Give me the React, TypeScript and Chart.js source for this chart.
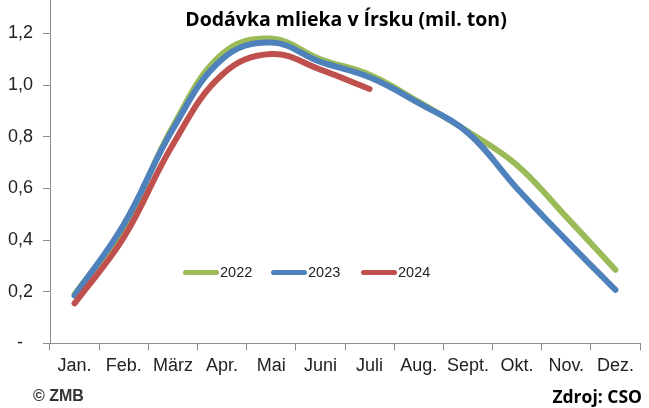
import React, { useEffect, useRef } from "react";
import { Chart, registerables } from "chart.js";

Chart.register(...registerables);

const months = ["Jan.", "Feb.", "März", "Apr.", "Mai", "Juni", "Juli", "Aug.", "Sept.", "Okt.", "Nov.", "Dez."];
const y2022 = [0.19, 0.45, 0.84, 1.12, 1.18, 1.10, 1.04, 0.935, 0.82, 0.69, 0.49, 0.285];
const y2023 = [0.185, 0.46, 0.83, 1.10, 1.165, 1.09, 1.03, 0.93, 0.815, 0.60, 0.40, 0.207];
const y2024 = [0.155, 0.41, 0.77, 1.04, 1.12, 1.06, 0.985];
const seriesNames = ["2022", "2023", "2024"];
const seriesColors = ["#9BBB59", "#4F81BD", "#C0504D"];

const FONT = "'Liberation Sans', Arial, sans-serif";

export default function App() {
  const ref = useRef<HTMLCanvasElement | null>(null);

  useEffect(() => {
    if (!ref.current) return;
    const chart = new Chart(ref.current, {
      type: "line",
      data: {
        labels: months,
        datasets: [y2022, y2023, y2024].map((d, i) => ({
          label: seriesNames[i],
          data: d,
          borderColor: seriesColors[i],
          backgroundColor: seriesColors[i],
          borderWidth: 6,
          borderCapStyle: "round" as const,
          borderJoinStyle: "round" as const,
          pointRadius: 0,
          tension: 0.4,
          fill: false,
          order: 2 - i,
        })),
      },
      options: {
        animation: false,
        responsive: false,
        layout: { padding: { left: 8, right: 9, top: 0, bottom: 26 } },
        plugins: {
          legend: { display: false },
          title: { display: false },
          tooltip: { enabled: false },
        },
        scales: {
          x: {
            offset: true,
            grid: {
              offset: true,
              drawOnChartArea: false,
              drawTicks: true,
              tickLength: 7,
              color: "#8c8c8c",
            },
            border: { color: "#8c8c8c", width: 1 },
            ticks: {
              color: "#222",
              font: { family: FONT, size: 18 },
              padding: 5,
              maxRotation: 0,
              autoSkip: false,
            },
          },
          y: {
            min: 0,
            max: 1.365,
            afterFit: (scale: any) => {
              scale.width = 42;
            },
            grid: {
              drawOnChartArea: false,
              drawTicks: true,
              tickLength: 7,
              color: "#8c8c8c",
            },
            border: { color: "#8c8c8c", width: 1 },
            ticks: {
              stepSize: 0.2,
              includeBounds: false,
              color: "#222",
              font: { family: FONT, size: 18 },
              padding: 10,
              callback: (v: any) => {
                const n = Number(v);
                if (Math.abs(n) < 1e-9) return "-  ";
                return n.toFixed(1).replace(".", ",");
              },
            },
          },
        },
      },
    });
    return () => chart.destroy();
  }, []);

  const legendItems = [
    { x: 183, name: seriesNames[0], color: seriesColors[0] },
    { x: 271, name: seriesNames[1], color: seriesColors[1] },
    { x: 361, name: seriesNames[2], color: seriesColors[2] },
  ];

  return (
    <div
      style={{
        position: "absolute",
        left: 0,
        top: 0,
        width: 649,
        height: 408,
        overflow: "hidden",
        background: "#fff",
      }}
    >
      <canvas
        ref={ref}
        width={649}
        height={438}
        style={{ position: "absolute", left: 0, top: -30, width: 649, height: 438 }}
      />
      <div
        style={{
          position: "absolute",
          left: 0,
          width: 692,
          top: 7,
          textAlign: "center",
          fontFamily: "'Open Sans', sans-serif",
          fontWeight: 700,
          fontSize: 19.5,
          lineHeight: "24px",
          color: "#000",
          whiteSpace: "nowrap",
        }}
      >
        Dodávka mlieka v Írsku (mil. ton)
      </div>
      {legendItems.map((it) => (
        <div key={it.name}>
          <div
            style={{
              position: "absolute",
              left: it.x,
              top: 270,
              width: 36,
              height: 5,
              borderRadius: 3,
              background: it.color,
            }}
          />
          <div
            style={{
              position: "absolute",
              left: it.x + 37,
              top: 263,
              fontFamily: FONT,
              fontSize: 14.5,
              color: "#222",
              lineHeight: "18px",
            }}
          >
            {it.name}
          </div>
        </div>
      ))}
      <div
        style={{
          position: "absolute",
          left: 33,
          top: 387,
          fontFamily: FONT,
          fontWeight: 700,
          fontSize: 16,
          color: "#333",
          lineHeight: "18px",
          whiteSpace: "nowrap",
        }}
      >
        © ZMB
      </div>
      <div
        style={{
          position: "absolute",
          right: 7,
          top: 386,
          fontFamily: "'Open Sans', sans-serif",
          fontWeight: 700,
          fontSize: 17.5,
          color: "#000",
          lineHeight: "20px",
          whiteSpace: "nowrap",
        }}
      >
        Zdroj: CSO
      </div>
    </div>
  );
}
